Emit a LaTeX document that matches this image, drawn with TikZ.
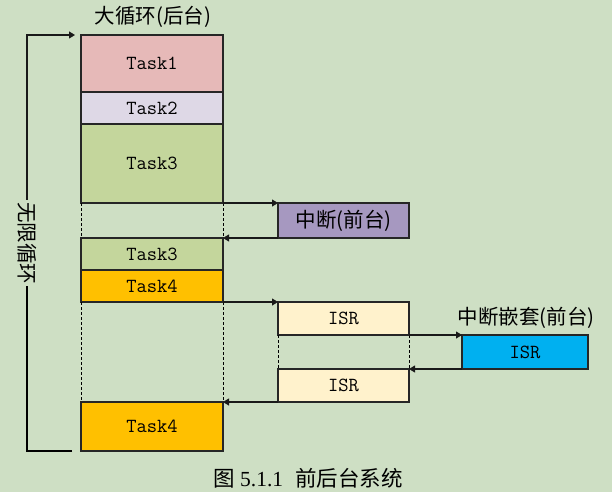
\documentclass[tikz,border=0pt]{standalone}
\usepackage{fontspec}
\setmainfont{Liberation Serif}
\newfontfamily\cjk{Noto Sans CJK SC}
\usetikzlibrary{arrows.meta}

\definecolor{bgcol}{HTML}{CEDFC4}
\definecolor{taskA}{HTML}{E6B9B8}
\definecolor{taskB}{HTML}{DED8E6}
\definecolor{taskC}{HTML}{C4D69C}
\definecolor{taskD}{HTML}{FFC000}
\definecolor{irqcol}{HTML}{A698C0}
\definecolor{isrcol}{HTML}{FFF2CC}
\definecolor{nestcol}{HTML}{00B0F0}

\tikzset{
  blk/.style={draw=black!85, line width=1.4pt, inner sep=0pt, outer sep=0pt,
    anchor=north west, font=\ttfamily\fontsize{20}{23}\selectfont},
  cnlabel/.style={inner sep=1pt, font=\cjk\fontsize{20.5}{24}\selectfont},
  link/.style={line width=1.1pt, draw=black!90, -{Triangle[length=6pt,width=7pt]}},
  gap/.style={line width=1pt, dash pattern=on 3pt off 2pt}
}

\begin{document}
\begin{tikzpicture}[x=1pt, y=-1pt, line join=miter]

  %% ════ 底色 ════
  \fill[bgcol] (0,0) rectangle (612,492);

  %% ════ 大循环（后台）════
  \node[blk, fill=taskA, minimum width=142pt, minimum height=57pt] (t1)  at (81,35)  {Task1};
  \node[blk, fill=taskB, minimum width=142pt, minimum height=32pt] (t2)  at (81,92)  {Task2};
  \node[blk, fill=taskC, minimum width=142pt, minimum height=79pt] (t3)  at (81,124) {Task3};
  \node[blk, fill=taskC, minimum width=142pt, minimum height=32pt] (t3b) at (81,238) {Task3};
  \node[blk, fill=taskD, minimum width=142pt, minimum height=32pt] (t4)  at (81,270) {Task4};
  \node[blk, fill=taskD, minimum width=142pt, minimum height=49pt] (t4b) at (81,402) {Task4};

  %% ════ 中断（前台）════
  \node[blk, fill=irqcol, minimum width=131pt, minimum height=35pt, font=\cjk\fontsize{20.5}{24}\selectfont] (irq) at (278,203) {中断(前台)};
  \node[blk, fill=isrcol, minimum width=131pt, minimum height=33pt] (isr1) at (278,302) {ISR};
  \node[blk, fill=nestcol, minimum width=126pt, minimum height=34pt] (nest) at (462,335) {ISR};
  \node[blk, fill=isrcol, minimum width=131pt, minimum height=33pt] (isr2) at (278,369) {ISR};

  %% ════ 标签 ════
  \node[cnlabel] (title) at (153,17) {大循环(后台)};
  \node[cnlabel] (nesttitle) at (526,318) {中断嵌套(前台)};
  \node[cnlabel, rotate=-90, inner sep=2pt] (loop) at (27,243) {无限循环};
  \node[font=\fontsize{21.5}{25}\selectfont] (cap) at (308,478) {{\cjk 图} 5.1.1\hspace{12pt}{\cjk 前后台系统}};

  %% ════ 虚线（被打断的时间段）════
  \draw[gap] (t3.south west) -- (t3b.north west);
  \draw[gap] (t3.south east) -- (t3b.north east);
  \draw[gap] (t4.south west) -- (t4b.north west);
  \draw[gap] (t4.south east) -- (t4b.north east);
  \draw[gap] (isr1.south west) -- (isr2.north west);
  \draw[gap] (isr1.south east) -- (isr2.north east);

  %% ════ 进出中断的箭头 ════
  \draw[link] (t3.south east) -- (irq.north west);
  \draw[link] (irq.south west) -- (t3b.north east);
  \draw[link] (t4.south east) -- (isr1.north west);
  \draw[link] (isr1.south east) -- (nest.north west);
  \draw[link] (nest.south west) -- (isr2.north east);
  \draw[link] (isr2.south west) -- (t4b.north east);

  %% ════ 无限循环回线 ════
  \coordinate (lpbot) at (72,451);
  \coordinate (lpcb) at (27,451);
  \coordinate (lpct) at (27,35);
  \coordinate (lptop) at (75,35);
  \draw[line width=1.1pt] (lpbot) -- (lpcb) -- (loop.east);
  \draw[link] (loop.west) -- (lpct) -- (lptop);

  \pgfresetboundingbox
  \path[use as bounding box] (0,0) rectangle (612,492);
\end{tikzpicture}
\end{document}
